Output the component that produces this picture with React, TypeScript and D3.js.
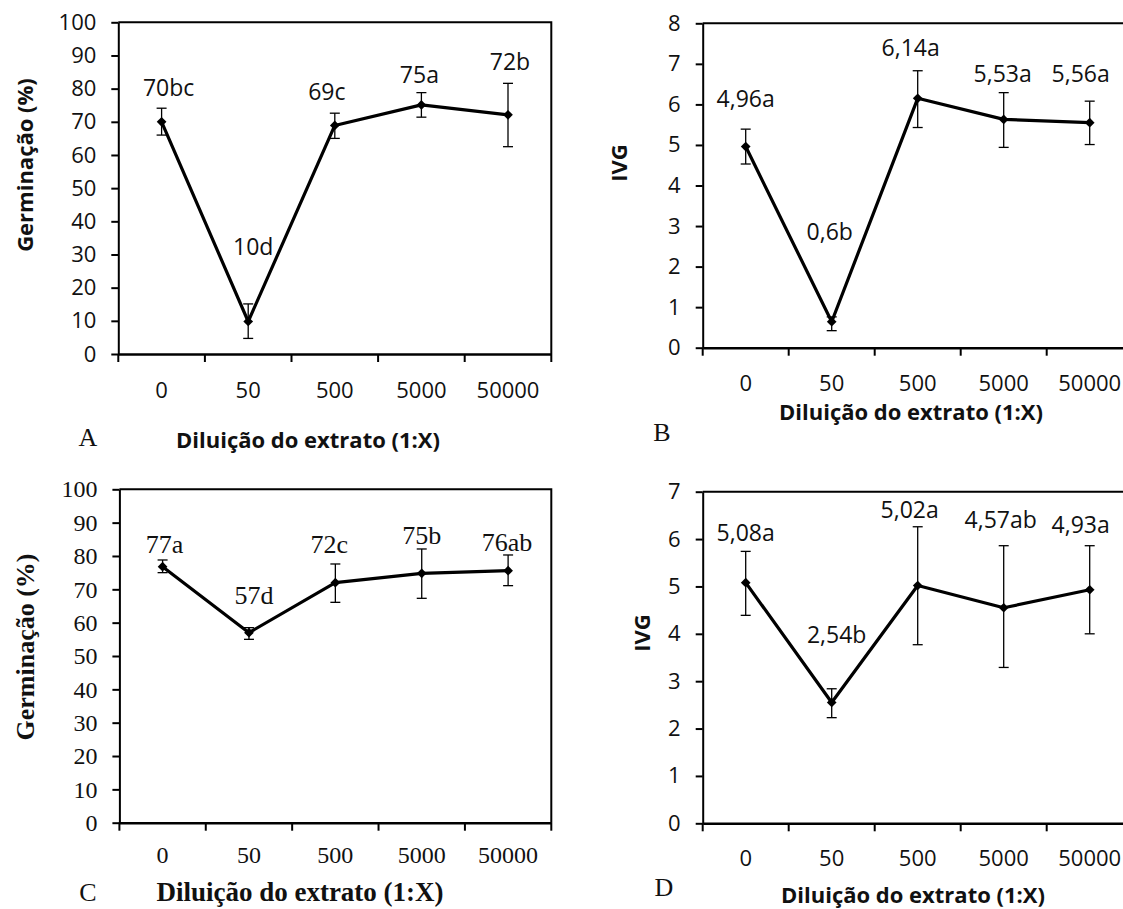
import { useEffect, useRef } from "react";
import * as d3 from "d3";

// Diluição do extrato (1:X) categories
const dilutions = ["0", "50", "500", "5000", "50000"];

// A - Germinação (%)
const germA = [70, 9.8, 68.9, 75.1, 72.1];
const germALow = [66, 4.7, 65, 71.4, 62.5];
const germAHigh = [74.1, 15.1, 72.6, 78.8, 81.6];
const germALabels = ["70bc", "10d", "69c", "75a", "72b"];

// B - IVG
const ivgB = [4.96, 0.64, 6.15, 5.63, 5.55];
const ivgBLow = [4.53, 0.42, 5.43, 4.94, 5.01];
const ivgBHigh = [5.39, 0.76, 6.83, 6.29, 6.08];
const ivgBLabels = ["4,96a", "0,6b", "6,14a", "5,53a", "5,56a"];

// C - Germinação (%)
const germC = [76.8, 57, 72, 74.8, 75.6];
const germCLow = [75, 55, 66.1, 67.3, 71.1];
const germCHigh = [78.8, 58.5, 77.6, 82.1, 80.3];
const germCLabels = ["77a", "57d", "72c", "75b", "76ab"];

// D - IVG
const ivgD = [5.08, 2.55, 5.02, 4.55, 4.93];
const ivgDLow = [4.39, 2.23, 3.77, 3.29, 4.0];
const ivgDHigh = [5.74, 2.84, 6.26, 5.86, 5.86];
const ivgDLabels = ["5,08a", "2,54b", "5,02a", "4,57ab", "4,93a"];

const germTicks = d3.range(0, 101, 10);
const ivgTicksB = d3.range(0, 9, 1);
const ivgTicksD = d3.range(0, 8, 1);

const xTitle = "Diluição do extrato (1:X)";

type Panel = {
  letter: string;
  values: number[];
  low: number[];
  high: number[];
  labels: string[];
  ticks: number[];
  yTitle: string;
  serif: boolean;
  box: [number, number, number, number];
  labelOffsets: [number, number][];
  yTitlePos: [number, number];
  xLabelY: number;
  xTitlePos: [number, number];
  letterPos: [number, number];
};

const panels: Panel[] = [
  {
    letter: "A", values: germA, low: germALow, high: germAHigh, labels: germALabels,
    ticks: germTicks, yTitle: "Germinação (%)", serif: false,
    box: [118.3, 22.3, 551.3, 354],
    labelOffsets: [[7, -20], [5, -57], [-8, -21], [-2, -18], [2, -21]],
    yTitlePos: [25, 165], xLabelY: 390, xTitlePos: [308, 440], letterPos: [88, 437],
  },
  {
    letter: "B", values: ivgB, low: ivgBLow, high: ivgBHigh, labels: ivgBLabels,
    ticks: ivgTicksB, yTitle: "IVG", serif: false,
    box: [702.7, 23.3, 1132.7, 347.7],
    labelOffsets: [[0, -30], [-2, -85], [-7, -23], [-1, -19], [-9, -27]],
    yTitlePos: [619, 163], xLabelY: 383, xTitlePos: [911, 412], letterPos: [662, 432],
  },
  {
    letter: "C", values: germC, low: germCLow, high: germCHigh, labels: germCLabels,
    ticks: germTicks, yTitle: "Germinação (%)", serif: true,
    box: [119.4, 489.3, 551.3, 822.7],
    labelOffsets: [[2, -16], [5, -33], [-6, -20], [0, -14], [-1, -13]],
    yTitlePos: [25, 647], xLabelY: 855, xTitlePos: [300, 892], letterPos: [88, 892],
  },
  {
    letter: "D", values: ivgD, low: ivgDLow, high: ivgDHigh, labels: ivgDLabels,
    ticks: ivgTicksD, yTitle: "IVG", serif: false,
    box: [702.7, 491.7, 1132.7, 823.3],
    labelOffsets: [[0, -18], [5, -54], [-8, -17], [-3, -26], [-9, -21]],
    yTitlePos: [642, 633], xLabelY: 858, xTitlePos: [913, 895], letterPos: [664, 887],
  },
];

const SANS = "'Open Sans', 'DejaVu Sans', sans-serif";
const SERIF = "'Liberation Serif', 'Times New Roman', serif";

function drawPanel(g: d3.Selection<SVGGElement, unknown, null, undefined>, p: Panel) {
  const [left, top, right, bottom] = p.box;
  const font = p.serif ? SERIF : SANS;
  const tickFs = p.serif ? 24 : 22;
  const labelFs = p.serif ? 26 : 23;
  const titleFs = p.serif ? 27 : 22;

  const x = d3.scaleBand<string>().domain(dilutions).range([left, right]);
  const y = d3.scaleLinear().domain([0, d3.max(p.ticks) as number]).range([bottom, top]);
  const cx = (i: number) => (x(dilutions[i]) as number) + x.bandwidth() / 2;

  // plot area border (top + right)
  g.append("path")
    .attr("d", `M${left},${top}H${right}V${bottom}`)
    .attr("fill", "none")
    .attr("stroke", "#000")
    .attr("stroke-width", 2);

  // y axis
  const yAxis = g.append("g")
    .attr("transform", `translate(${left},0)`)
    .call(d3.axisLeft(y).tickValues(p.ticks).tickFormat(d3.format("d")).tickSize(7).tickSizeOuter(0).tickPadding(15));
  yAxis.attr("font-family", font);
  yAxis.select(".domain").attr("stroke-width", 2);
  yAxis.selectAll(".tick line").attr("stroke-width", 2);
  yAxis.selectAll(".tick text")
    .attr("font-family", font)
    .attr("font-size", tickFs)
    .attr("fill", "#111");

  // x axis: labels centred on categories, ticks on boundaries
  const xAxis = g.append("g")
    .attr("transform", `translate(0,${bottom})`)
    .call(d3.axisBottom(x).tickSize(0).tickSizeOuter(0));
  xAxis.attr("font-family", font);
  xAxis.select(".domain").attr("stroke-width", 2.5);
  xAxis.selectAll(".tick text")
    .attr("y", p.xLabelY - bottom)
    .attr("dy", "0.35em")
    .attr("font-family", font)
    .attr("font-size", tickFs)
    .attr("fill", "#111");
  const bounds = [...dilutions.map((d) => x(d) as number), right];
  xAxis.selectAll("line.bound")
    .data(bounds)
    .join("line")
    .attr("class", "bound")
    .attr("x1", (d) => d)
    .attr("x2", (d) => d)
    .attr("y1", 0)
    .attr("y2", 8)
    .attr("stroke", "#000")
    .attr("stroke-width", 2);

  // error bars
  const eb = g.append("g").attr("stroke", "#000").attr("stroke-width", 1.3);
  p.values.forEach((_, i) => {
    const xc = cx(i);
    eb.append("line").attr("x1", xc).attr("x2", xc).attr("y1", y(p.low[i])).attr("y2", y(p.high[i]));
    eb.append("line").attr("x1", xc - 5).attr("x2", xc + 5).attr("y1", y(p.low[i])).attr("y2", y(p.low[i]));
    eb.append("line").attr("x1", xc - 5).attr("x2", xc + 5).attr("y1", y(p.high[i])).attr("y2", y(p.high[i]));
  });

  // line
  const line = d3.line<number>().x((_, i) => cx(i)).y((v) => y(v));
  g.append("path")
    .datum(p.values)
    .attr("d", line)
    .attr("fill", "none")
    .attr("stroke", "#000")
    .attr("stroke-width", 3.2)
    .attr("stroke-linejoin", "round");

  // markers
  g.append("g")
    .selectAll("path")
    .data(p.values)
    .join("path")
    .attr("transform", (v, i) => `translate(${cx(i)},${y(v)})`)
    .attr("d", d3.symbol(d3.symbolDiamond2, 60)())
    .attr("fill", "#000");

  // data labels
  g.append("g")
    .selectAll("text")
    .data(p.labels)
    .join("text")
    .attr("x", (_, i) => cx(i) + p.labelOffsets[i][0])
    .attr("y", (_, i) => y(p.high[i]) + p.labelOffsets[i][1])
    .attr("dy", "0.35em")
    .attr("text-anchor", "middle")
    .attr("font-family", font)
    .attr("font-size", labelFs)
    .attr("fill", "#111")
    .text((d) => d);

  // y title
  g.append("text")
    .attr("transform", `translate(${p.yTitlePos[0]},${p.yTitlePos[1]}) rotate(-90)`)
    .attr("dy", "0.35em")
    .attr("text-anchor", "middle")
    .attr("font-family", font)
    .attr("font-weight", "bold")
    .attr("font-size", p.serif ? 26 : 22)
    .attr("fill", "#111")
    .text(p.yTitle);

  // x title
  g.append("text")
    .attr("x", p.xTitlePos[0])
    .attr("y", p.xTitlePos[1])
    .attr("dy", "0.35em")
    .attr("text-anchor", "middle")
    .attr("font-family", font)
    .attr("font-weight", "bold")
    .attr("font-size", titleFs)
    .attr("fill", "#111")
    .text(xTitle);

  // panel letter
  g.append("text")
    .attr("x", p.letterPos[0])
    .attr("y", p.letterPos[1])
    .attr("dy", "0.35em")
    .attr("text-anchor", "middle")
    .attr("font-family", SERIF)
    .attr("font-size", 26)
    .attr("fill", "#111")
    .text(p.letter);
}

export default function App() {
  const ref = useRef<SVGSVGElement>(null);

  useEffect(() => {
    const svg = d3.select(ref.current);
    svg.selectAll("*").remove();
    svg.append("rect").attr("width", 1123).attr("height", 909).attr("fill", "#fff");
    panels.forEach((p) => drawPanel(svg.append("g") as any, p));
  }, []);

  return (
    <svg
      ref={ref}
      width={1123}
      height={909}
      style={{ position: "absolute", left: 0, top: 0, display: "block" }}
    />
  );
}
